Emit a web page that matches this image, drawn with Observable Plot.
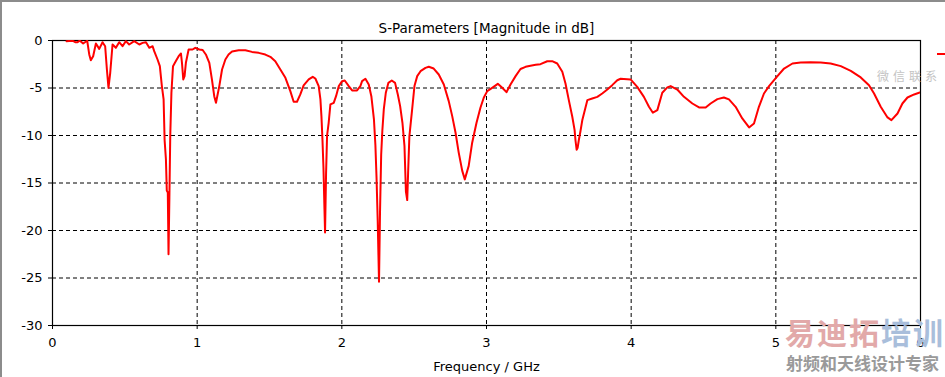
<!DOCTYPE html>
<html>
<head>
<meta charset="utf-8">
<script src="https://cdn.jsdelivr.net/npm/d3@7"></script>
<script src="https://cdn.jsdelivr.net/npm/@observablehq/plot@0.6"></script>
<style>
  body { margin: 0; background: #fff; }
  #wrap { position: relative; width: 945px; height: 377px; overflow: hidden; font-family: "DejaVu Sans", sans-serif; background: #fff; }
  #wrap svg { display: block; }
  #border { position: absolute; left: 0; top: 0; width: 945px; height: 377px; box-sizing: border-box; border-left: 2px solid #8c8c8c; border-top: 2px solid #8c8c8c; pointer-events: none; }
  #legendStub { position: absolute; left: 937px; top: 53px; width: 8px; height: 2px; background: #ff0000; }
  .wm { position: absolute; font-family: "Noto Sans CJK SC", sans-serif; white-space: nowrap; pointer-events: none; line-height: 1; }
  #wm1 { left: 877px; top: 70px; font-size: 12px; letter-spacing: 4px; color: #c4c4c4; }
  #wm2 { left: 785px; top: 316px; font-size: 30px; font-weight: bold; letter-spacing: 2px; }
  #wm3 { left: 786px; top: 354px; font-size: 17px; font-weight: bold; color: #9a9a9a; }
</style>
</head>
<body>
<div id="wrap">
  <div id="chart"></div>
  <div id="legendStub"></div>
  <div class="wm" id="wm1">微信联系</div>
  <div class="wm" id="wm2"><span style="color:#e2a9a9">易迪拓</span><span style="color:#a9bedb">培训</span></div>
  <div class="wm" id="wm3">射频和天线设计专家</div>
  <div id="border"></div>
</div>
<script>
const title = "S-Parameters [Magnitude in dB]";
const xLabel = "Frequency / GHz";
const xTicks = [0, 1, 2, 3, 4, 5, 6];
const yTicks = [-30, -25, -20, -15, -10, -5, 0];

const freq = [
0.097,0.115,0.138,0.157,0.173,0.189,0.212,0.240,0.254,0.265,0.281,0.300,0.323,0.346,0.364,0.376,0.387,0.399,0.415,0.438,
0.461,0.484,0.507,0.530,0.565,0.600,0.623,0.646,0.669,0.692,0.703,0.726,0.742,0.756,0.768,0.775,0.784,0.790,0.797,0.802,
0.808,0.814,0.822,0.833,0.853,0.872,0.888,0.895,0.904,0.913,0.922,0.941,0.968,0.987,1.015,1.038,1.060,1.084,1.102,1.118,
1.130,1.153,1.172,1.195,1.217,1.241,1.287,1.333,1.379,1.425,1.471,1.506,1.540,1.575,1.610,1.644,1.667,1.690,1.713,1.736,
1.771,1.799,1.817,1.840,1.852,1.859,1.866,1.873,1.880,1.884,1.891,1.898,1.909,1.921,1.944,1.960,1.979,2.002,2.020,2.048,
2.071,2.105,2.128,2.140,2.163,2.186,2.204,2.222,2.232,2.240,2.248,2.257,2.264,2.272,2.280,2.290,2.304,2.322,2.345,2.368,
2.387,2.403,2.419,2.433,2.443,2.452,2.458,2.467,2.486,2.502,2.521,2.544,2.578,2.601,2.635,2.670,2.705,2.739,2.763,2.786,
2.808,2.832,2.850,2.877,2.901,2.931,2.958,2.981,3.005,3.039,3.078,3.109,3.138,3.166,3.201,3.235,3.270,3.304,3.340,3.373,
3.420,3.454,3.489,3.524,3.546,3.569,3.593,3.609,3.615,3.623,3.630,3.638,3.650,3.662,3.697,3.731,3.766,3.800,3.835,3.869,
3.904,3.927,3.996,4.042,4.088,4.123,4.150,4.181,4.215,4.250,4.273,4.319,4.365,4.423,4.469,4.515,4.549,4.596,4.641,4.676,
4.722,4.768,4.815,4.849,4.883,4.918,4.953,5.011,5.057,5.115,5.172,5.240,5.310,5.379,5.449,5.518,5.587,5.644,5.679,5.725,
5.772,5.799,5.841,5.875,5.910,5.956,5.995
];
const s11 = [
-0.07,-0.05,-0.02,-0.18,-0.18,-0.02,-0.32,-0.03,-1.47,-2.07,-1.65,-0.32,-0.88,-0.18,-0.60,-3.05,-4.98,-3.40,-0.42,-0.77,
-0.18,-0.60,-0.07,-0.42,-0.07,-0.42,-0.25,-0.18,-0.77,-0.60,-1.12,-2.00,-2.70,-4.80,-6.20,-10.5,-12.5,-15.8,-16.0,-22.5,
-16.5,-10.0,-5.5,-2.70,-2.17,-1.65,-1.37,-2.35,-4.10,-3.75,-2.35,-0.95,-0.95,-0.77,-0.95,-1.00,-1.47,-2.35,-4.10,-5.86,
-6.56,-4.80,-3.05,-2.00,-1.48,-1.16,-1.02,-1.02,-1.20,-1.30,-1.48,-1.72,-2.18,-3.05,-3.93,-5.33,-6.45,-6.45,-5.68,-4.73,
-4.10,-3.82,-4.00,-4.80,-6.20,-7.96,-10.4,-13.4,-17.8,-20.2,-14.0,-10.0,-8.66,-6.73,-6.56,-5.86,-4.80,-4.28,-4.21,-4.80,
-5.26,-5.26,-4.80,-4.28,-4.03,-4.63,-5.86,-8.31,-11.0,-14.5,-19.0,-25.4,-18.0,-12.0,-9.5,-7.26,-5.50,-4.46,-4.21,-4.46,
-5.68,-6.91,-8.66,-11.1,-15.9,-16.8,-14.0,-10.06,-7.26,-4.80,-3.75,-3.23,-2.88,-2.77,-2.95,-3.58,-4.63,-6.38,-7.96,-9.71,
-11.8,-13.7,-14.62,-13.2,-10.76,-8.66,-7.08,-6.03,-5.33,-4.98,-4.56,-4.98,-5.44,-4.63,-3.75,-3.00,-2.77,-2.65,-2.55,-2.49,
-2.18,-2.18,-2.42,-3.30,-4.53,-6.28,-8.03,-9.43,-10.5,-11.5,-11.3,-10.5,-9.5,-8.4,-6.28,-6.10,-5.93,-5.58,-5.16,-4.70,
-4.18,-4.03,-4.10,-4.88,-5.93,-6.98,-7.60,-7.33,-5.50,-4.94,-4.80,-5.16,-5.93,-6.63,-7.05,-7.05,-6.63,-6.17,-6.00,-6.20,
-6.98,-8.20,-9.15,-8.73,-6.98,-5.58,-4.80,-3.75,-2.95,-2.42,-2.32,-2.30,-2.32,-2.42,-2.70,-3.19,-3.89,-4.70,-5.58,-6.98,
-8.10,-8.38,-7.68,-6.63,-6.00,-5.68,-5.47
];

const data = freq.map((f, i) => ({f, db: s11[i]}));

const chart = Plot.plot({
  width: 945,
  height: 377,
  marginLeft: 52,
  marginRight: 25,
  marginTop: 40,
  marginBottom: 52,
  style: {fontFamily: "DejaVu Sans, sans-serif", fontSize: "13px", color: "black", background: "white", overflow: "visible"},
  x: {domain: [0, 6]},
  y: {domain: [-30, 0]},
  marks: [
    Plot.gridX(xTicks, {stroke: "black", strokeOpacity: 1, strokeDasharray: "4,3"}),
    Plot.gridY(yTicks, {stroke: "black", strokeOpacity: 1, strokeDasharray: "4,3"}),
    Plot.frame({stroke: "black", strokeWidth: 1.2}),
    Plot.axisX(xTicks, {tickSize: 4, tickPadding: 8, tickFormat: d => String(d), label: xLabel, labelAnchor: "center", labelOffset: 45, labelArrow: false, fill: "black", fontSize: 13}),
    Plot.axisY(yTicks, {tickSize: 4, tickPadding: 6, tickFormat: d => String(d), label: null, fill: "black", fontSize: 13}),
    Plot.line(data, {x: "f", y: "db", stroke: "#ff0000", strokeWidth: 2, clip: true}),
    Plot.text([title], {frameAnchor: "top", dy: -17, fontSize: 13.5, fill: "black"})
  ]
});
document.getElementById("chart").appendChild(chart);
</script>
</body>
</html>
